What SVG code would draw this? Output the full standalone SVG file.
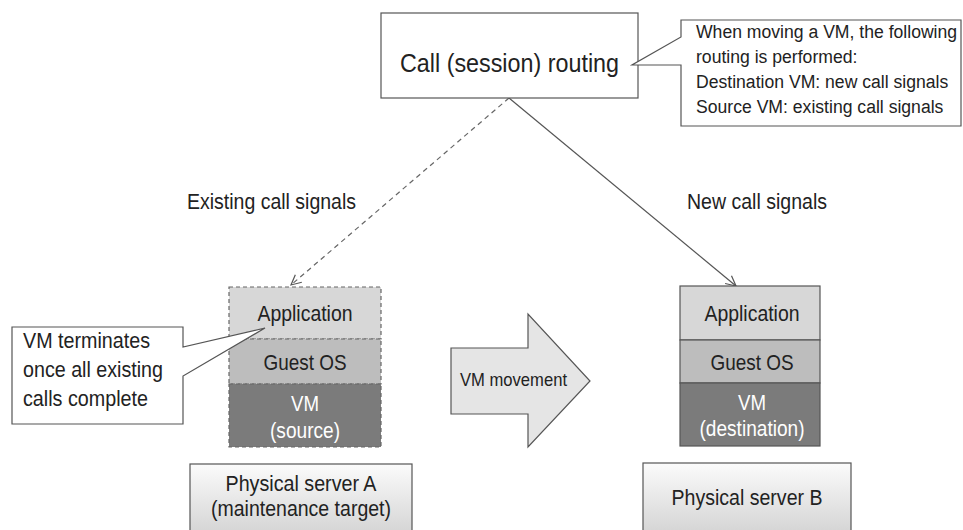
<svg xmlns="http://www.w3.org/2000/svg" width="963" height="530" viewBox="0 0 963 530">
  <style>
    text { font-family: "Liberation Sans", Arial, sans-serif; fill: #222; }
    .box { fill: #ffffff; stroke: #555; stroke-width: 1.2; }
    .app { fill: #d7d7d7; }
    .os { fill: #bdbdbd; }
    .vm { fill: #7b7b7b; }
    .dash { stroke: #666; stroke-width: 1.2; stroke-dasharray: 4 3; }
    .solid { stroke: #555; stroke-width: 1.2; }
    .srv { fill: url(#srvGrad); stroke: #555; stroke-width: 1.2; }
    .mid { text-anchor: middle; }
    .light { fill: #fff; }
    .t26 { font-size: 26px; }
    .note { font-size: 17.6px; }
    .t22 { font-size: 21.8px; }
    .t21 { font-size: 21.3px; }
    .t18 { font-size: 18.6px; }
  </style>
  <defs>
    <linearGradient id="srvGrad" x1="0" y1="0" x2="0" y2="1">
      <stop offset="0" stop-color="#fbfbfb"/>
      <stop offset="1" stop-color="#cfcfcf"/>
    </linearGradient>
    <marker id="openArrow" viewBox="0 0 12 12" refX="11" refY="6" markerWidth="12" markerHeight="12" markerUnits="userSpaceOnUse" orient="auto">
      <path d="M1,1 L11,6 L1,11" fill="none" stroke="#555" stroke-width="1.2" stroke-dasharray="none"/>
    </marker>
  </defs>

  <!-- connectors -->
  <g id="connectors">
    <line x1="509" y1="98" x2="291" y2="285" fill="none" stroke="#666" stroke-width="1.2" stroke-dasharray="5 4" marker-end="url(#openArrow)"/>
    <line x1="509" y1="98" x2="736" y2="286" fill="none" stroke="#555" stroke-width="1.2" marker-end="url(#openArrow)"/>
  </g>

  <!-- routing node -->
  <g id="routing">
    <rect class="box" x="381" y="13" width="257" height="85"/>
    <text class="mid t26" x="509.5" y="72" textLength="219" lengthAdjust="spacingAndGlyphs">Call (session) routing</text>
  </g>

  <!-- routing note -->
  <g id="routing-note">
    <path class="box" d="M681,20 H961 V126 H681 V65 H632 L681,37 Z"/>
    <text class="note" x="696" y="38">When moving a VM, the following</text>
    <text class="note" x="696" y="63">routing is performed:</text>
    <text class="note" x="696" y="88">Destination VM: new call signals</text>
    <text class="note" x="696" y="113">Source VM: existing call signals</text>
  </g>

  <!-- signal labels -->
  <g id="label-existing">
    <text class="t22" x="187" y="209" textLength="169" lengthAdjust="spacingAndGlyphs">Existing call signals</text>
  </g>
  <g id="label-new">
    <text class="t22" x="687" y="209" textLength="140" lengthAdjust="spacingAndGlyphs">New call signals</text>
  </g>

  <!-- source stack -->
  <g id="source-stack">
    <rect class="app dash" x="229" y="287" width="152" height="52"/>
    <rect class="os dash" x="229" y="339" width="152" height="45"/>
    <rect class="vm dash" x="229" y="384" width="152" height="63"/>
    <text class="mid t21" x="305" y="321" textLength="95" lengthAdjust="spacingAndGlyphs">Application</text>
    <text class="mid t21" x="305" y="370" textLength="83" lengthAdjust="spacingAndGlyphs">Guest OS</text>
    <text class="mid light t21" x="305" y="411" textLength="28" lengthAdjust="spacingAndGlyphs">VM</text>
    <text class="mid light t21" x="305" y="438" textLength="70" lengthAdjust="spacingAndGlyphs">(source)</text>
  </g>

  <!-- source note -->
  <g id="source-note">
    <path class="box" d="M12,327 H183 V347 L265,328 L183,376 V424 H12 Z"/>
    <text class="t22" x="23" y="348" textLength="127" lengthAdjust="spacingAndGlyphs">VM terminates</text>
    <text class="t22" x="23" y="377" textLength="140" lengthAdjust="spacingAndGlyphs">once all existing</text>
    <text class="t22" x="23" y="406" textLength="125" lengthAdjust="spacingAndGlyphs">calls complete</text>
  </g>

  <!-- movement arrow -->
  <g id="vm-movement">
    <polygon points="451,348 528,348 528,314 590,381 528,447 528,414 451,414" fill="#e5e5e5" stroke="#555" stroke-width="1.2"/>
    <text class="t18" x="460" y="386" textLength="107" lengthAdjust="spacingAndGlyphs">VM movement</text>
  </g>

  <!-- destination stack -->
  <g id="destination-stack">
    <rect class="app solid" x="680" y="286" width="140" height="54"/>
    <rect class="os solid" x="680" y="340" width="140" height="43"/>
    <rect class="vm solid" x="680" y="383" width="140" height="63"/>
    <text class="mid t21" x="752" y="321" textLength="95" lengthAdjust="spacingAndGlyphs">Application</text>
    <text class="mid t21" x="752" y="370" textLength="83" lengthAdjust="spacingAndGlyphs">Guest OS</text>
    <text class="mid light t21" x="752" y="410" textLength="28" lengthAdjust="spacingAndGlyphs">VM</text>
    <text class="mid light t21" x="752" y="436" textLength="105" lengthAdjust="spacingAndGlyphs">(destination)</text>
  </g>

  <!-- physical servers -->
  <g id="server-a">
    <rect class="srv" x="190" y="464" width="222" height="80"/>
    <text class="mid t22" x="301" y="491" textLength="151" lengthAdjust="spacingAndGlyphs">Physical server A</text>
    <text class="mid t22" x="301" y="516" textLength="180" lengthAdjust="spacingAndGlyphs">(maintenance target)</text>
  </g>
  <g id="server-b">
    <rect class="srv" x="643" y="463" width="208" height="80"/>
    <text class="mid t22" x="747" y="505" textLength="151" lengthAdjust="spacingAndGlyphs">Physical server B</text>
  </g>
</svg>
